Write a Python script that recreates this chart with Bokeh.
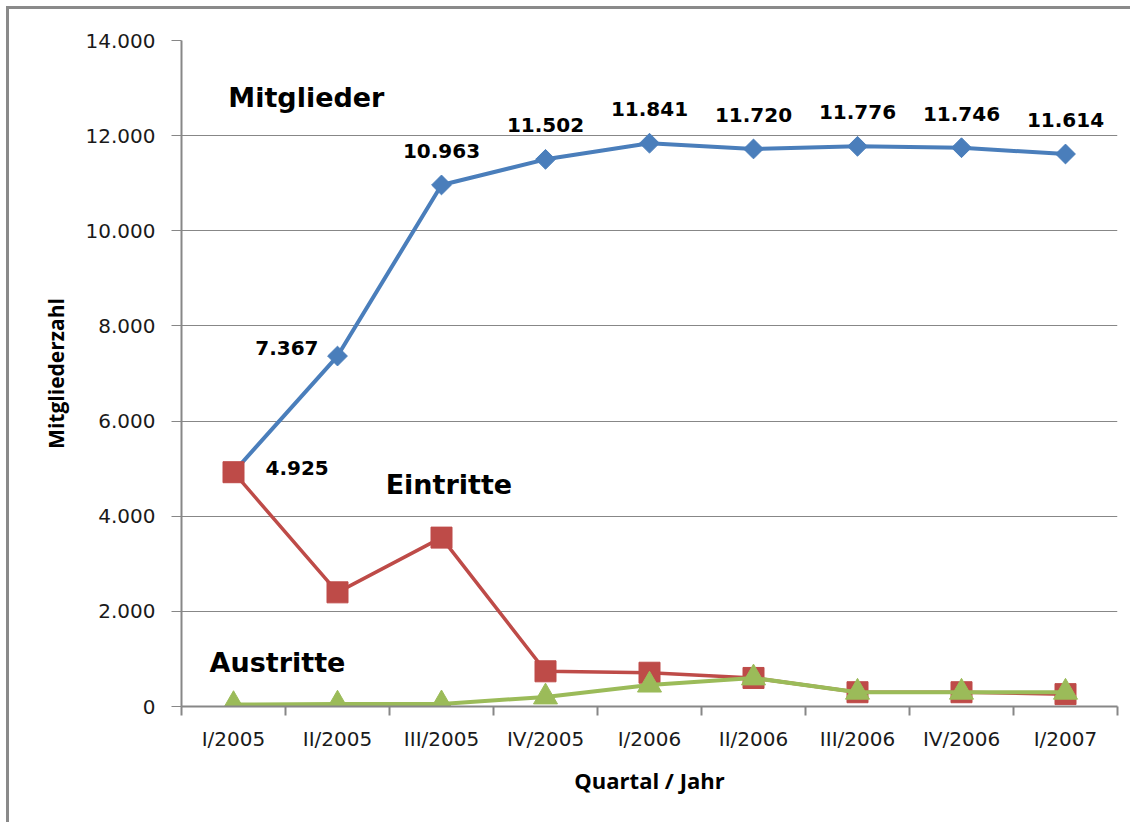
import math
from bokeh.plotting import figure
from bokeh.models import FixedTicker, Label
from bokeh.core.properties import value
from bokeh.embed import file_html
from bokeh.resources import INLINE

quarters = ["I/2005", "II/2005", "III/2005", "IV/2005", "I/2006",
            "II/2006", "III/2006", "IV/2006", "I/2007"]
mitglieder = [4925, 7367, 10963, 11502, 11841, 11720, 11776, 11746, 11614]
eintritte = [4925, 2400, 3550, 740, 710, 600, 300, 300, 260]
austritte = [40, 50, 55, 200, 450, 600, 300, 300, 300]
mitglieder_labels = ["4.925", "7.367", "10.963", "11.502", "11.841",
                     "11.720", "11.776", "11.746", "11.614"]
y_ticks = [0, 2000, 4000, 6000, 8000, 10000, 12000, 14000]
y_tick_labels = ["0", "2.000", "4.000", "6.000", "8.000", "10.000", "12.000", "14.000"]

xs = [i + 0.5 for i in range(len(quarters))]

GRID = "#878787"
BLUE = "#4A7EBB"
RED = "#BE4B48"
GREEN = "#9BBB59"
TICK_FONT = "DejaVu Sans"
TITLE_FONT = "Open Sans"
BOLD_FONT = "DejaVu Sans"

p = figure(width=1124, height=816, output_backend="svg", toolbar_location=None,
           x_range=(0, len(quarters)), y_range=(0, 14000),
           min_border_left=172, min_border_right=16, min_border_top=31,
           min_border_bottom=119)
p.outline_line_color = None
p.background_fill_color = "white"
p.border_fill_color = "white"
p.styles = {"margin-left": "6px", "margin-top": "6px",
            "border-left": "3px solid #8a8a8a", "border-top": "3px solid #8a8a8a"}

# grid
p.xgrid.grid_line_color = None
p.ygrid.ticker = FixedTicker(ticks=y_ticks)
p.ygrid.grid_line_color = GRID
p.ygrid.grid_line_width = 1

# y axis
ya = p.yaxis[0]
ya.ticker = FixedTicker(ticks=y_ticks)
ya.major_label_overrides = {t: l for t, l in zip(y_ticks, y_tick_labels)}
ya.axis_line_color = GRID
ya.axis_line_width = 2
ya.major_tick_line_color = GRID
ya.major_tick_out = 10
ya.major_tick_in = 0
ya.minor_tick_line_color = None
ya.major_label_text_font = TICK_FONT
ya.major_label_text_font_size = "20px"
ya.major_label_text_color = "#1a1a1a"
ya.major_label_standoff = 16
ya.axis_label = "Mitgliederzahl"
ya.axis_label_text_font = TITLE_FONT
ya.axis_label_text_font_style = "bold"
ya.axis_label_text_font_size = "21px"
ya.axis_label_text_color = "black"
ya.axis_label_standoff = 13

# x axis: labels at centers, tick marks at category boundaries
xa = p.xaxis[0]
xa.ticker = FixedTicker(ticks=xs, minor_ticks=list(range(len(quarters) + 1)))
xa.major_label_overrides = {x: q for x, q in zip(xs, quarters)}
xa.axis_line_color = GRID
xa.axis_line_width = 2
xa.major_tick_line_color = None
xa.major_tick_out = 0
xa.major_tick_in = 0
xa.minor_tick_line_color = GRID
xa.minor_tick_line_width = 2
xa.minor_tick_out = 9
xa.minor_tick_in = 0
xa.major_label_text_font = TICK_FONT
xa.major_label_text_font_size = "20px"
xa.major_label_text_color = "#1a1a1a"
xa.major_label_standoff = 11
xa.axis_label = "Quartal / Jahr"
xa.axis_label_text_font = TITLE_FONT
xa.axis_label_text_font_style = "bold"
xa.axis_label_text_font_size = "22px"
xa.axis_label_text_color = "black"
xa.axis_label_standoff = 11

# series
p.line(xs, mitglieder, line_color=BLUE, line_width=4)
p.scatter(xs, mitglieder, marker="square", size=14, angle=math.pi / 4,
          fill_color=BLUE, line_color=BLUE)
p.line(xs, eintritte, line_color=RED, line_width=3.5)
p.scatter(xs, eintritte, marker="square", size=21, fill_color=RED, line_color=RED)
p.line(xs, austritte, line_color=GREEN, line_width=4)
p.scatter(xs, austritte, marker="triangle", size=24, fill_color=GREEN, line_color=GREEN)

# data labels
lab_font = value(BOLD_FONT)
p.text([xs[0]], [mitglieder[0]], text=[mitglieder_labels[0]], x_offset=32, y_offset=-4,
       text_font=lab_font, text_font_style="bold", text_font_size="20px",
       text_align="left", text_baseline="alphabetic", text_color="black")
p.text([xs[1]], [mitglieder[1]], text=[mitglieder_labels[1]], x_offset=-19, y_offset=-8,
       text_font=lab_font, text_font_style="bold", text_font_size="20px",
       text_align="right", text_baseline="alphabetic", text_color="black")
p.text(xs[2:], mitglieder[2:], text=mitglieder_labels[2:], x_offset=0, y_offset=-34,
       text_font=lab_font, text_font_style="bold", text_font_size="20px",
       text_align="center", text_baseline="alphabetic", text_color="black")

# series names
for txt, x, y in [("Mitglieder", 0.45, 12800), ("Eintritte", 1.963, 4670),
                  ("Austritte", 0.27, 925)]:
    p.add_layout(Label(x=x, y=y, text=txt, text_font=BOLD_FONT, text_font_style="bold",
                       text_font_size="27px", text_color="black",
                       text_align="left", text_baseline="alphabetic"))

open("out.html", "w").write(file_html(p, INLINE))
